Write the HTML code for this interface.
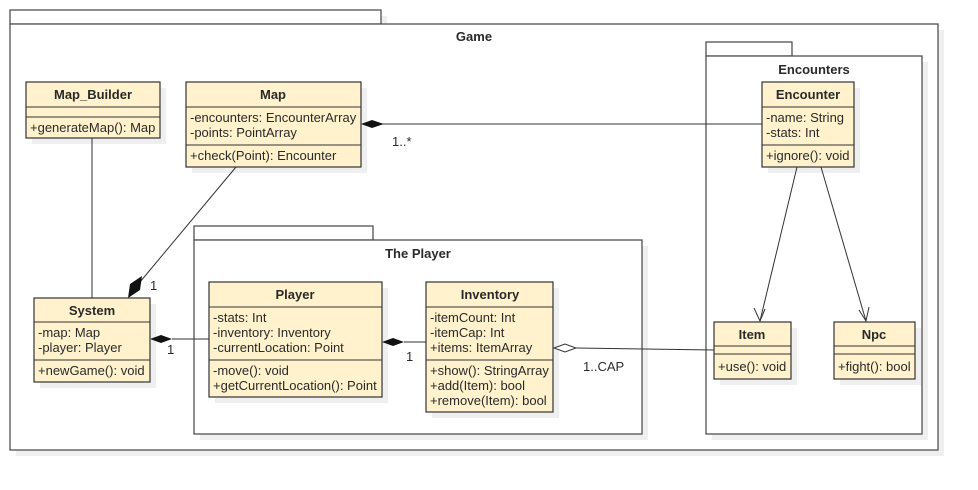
<!DOCTYPE html>
<html><head><meta charset="utf-8"><style>
html,body{margin:0;padding:0;background:#fff;}
svg{display:block;}
text{font-family:"Liberation Sans",Arial,sans-serif;font-size:13px;fill:#2a2a2a;}
.b{font-weight:bold;}
.box{fill:#fff2cc;stroke:#333;stroke-width:1.2;}
.sh{fill:#efefef;}
.ln{stroke:#333;stroke-width:1;fill:none;}
.pk{fill:#fff;stroke:#444;stroke-width:1.2;}
</style></head><body>
<svg width="978" height="490" viewBox="0 0 978 490" xmlns="http://www.w3.org/2000/svg">
<!-- Game package -->
<rect class="sh" x="16" y="16" width="371" height="14"/>
<rect class="sh" x="16" y="30" width="928" height="426"/>
<rect class="pk" x="10" y="10" width="371" height="14"/>
<rect class="pk" x="10" y="24" width="928" height="426"/>
<text class="b" x="474" y="41" text-anchor="middle">Game</text>

<!-- Encounters package -->
<rect class="sh" x="712" y="62" width="216" height="378"/>
<rect class="pk" x="706" y="42" width="86" height="14"/>
<rect class="pk" x="706" y="56" width="216" height="378"/>
<text class="b" x="814" y="74" text-anchor="middle">Encounters</text>

<!-- The Player package -->
<rect class="sh" x="200" y="246" width="448" height="194"/>
<rect class="pk" x="194" y="226" width="179" height="14"/>
<rect class="pk" x="194" y="240" width="448" height="194"/>
<text class="b" x="418" y="258" text-anchor="middle">The Player</text>

<!-- class shadows -->
<rect class="sh" x="32" y="88" width="134" height="56"/>
<rect class="sh" x="192" y="88" width="175" height="85"/>
<rect class="sh" x="40" y="304" width="116" height="84"/>
<rect class="sh" x="215" y="288" width="173" height="115"/>
<rect class="sh" x="432" y="288" width="127" height="130"/>
<rect class="sh" x="768" y="88" width="92" height="85"/>
<rect class="sh" x="720" y="328" width="77" height="57"/>
<rect class="sh" x="840" y="328" width="81" height="57"/>

<!-- connectors -->
<line class="ln" x1="92" y1="138" x2="92" y2="298"/>
<line class="ln" x1="236" y1="167" x2="140" y2="282"/>
<polygon points="128,298 130,284 142,276 140,290" fill="#111"/>
<text x="150" y="290">1</text>
<line class="ln" x1="383" y1="124" x2="762" y2="124"/>
<polygon points="361,124 372,120 384,124 372,128" fill="#111"/>
<text x="392" y="146">1..*</text>
<line class="ln" x1="172" y1="339" x2="209" y2="339"/>
<polygon points="150,339 161,335 172,339 161,343" fill="#111"/>
<text x="167" y="354">1</text>
<line class="ln" x1="404" y1="342" x2="426" y2="342"/>
<polygon points="382,342 393,338 404,342 393,346" fill="#111"/>
<text x="406" y="361">1</text>
<line class="ln" x1="576" y1="348" x2="714" y2="350"/>
<polygon points="554,348 565,344 576,348 565,352" fill="#fff" stroke="#333" stroke-width="1"/>
<text x="583" y="371">1..CAP</text>
<line class="ln" x1="797" y1="167" x2="760" y2="321"/>
<polyline class="ln" points="754,308 760,321 765,309"/>
<line class="ln" x1="821" y1="167" x2="866" y2="321"/>
<polyline class="ln" points="859,310 866,321 869,307"/>

<!-- Map_Builder -->
<rect class="box" x="26" y="82" width="134" height="56"/>
<line class="ln" x1="26" y1="107" x2="160" y2="107"/>
<line class="ln" x1="26" y1="117" x2="160" y2="117"/>
<text class="b" x="93" y="99" text-anchor="middle">Map_Builder</text>
<text x="30" y="132">+generateMap(): Map</text>

<!-- Map -->
<rect class="box" x="186" y="82" width="175" height="85"/>
<line class="ln" x1="186" y1="107" x2="361" y2="107"/>
<line class="ln" x1="186" y1="145" x2="361" y2="145"/>
<text class="b" x="273" y="99" text-anchor="middle">Map</text>
<text x="190" y="122">-encounters: EncounterArray</text>
<text x="190" y="137">-points: PointArray</text>
<text x="190" y="160">+check(Point): Encounter</text>

<!-- System -->
<rect class="box" x="34" y="298" width="116" height="84"/>
<line class="ln" x1="34" y1="322" x2="150" y2="322"/>
<line class="ln" x1="34" y1="360" x2="150" y2="360"/>
<text class="b" x="92" y="315" text-anchor="middle">System</text>
<text x="38" y="337">-map: Map</text>
<text x="38" y="352">-player: Player</text>
<text x="38" y="375">+newGame(): void</text>

<!-- Player -->
<rect class="box" x="209" y="282" width="173" height="115"/>
<line class="ln" x1="209" y1="307" x2="382" y2="307"/>
<line class="ln" x1="209" y1="360" x2="382" y2="360"/>
<text class="b" x="295" y="299" text-anchor="middle">Player</text>
<text x="213" y="322">-stats: Int</text>
<text x="213" y="337">-inventory: Inventory</text>
<text x="213" y="352">-currentLocation: Point</text>
<text x="213" y="375">-move(): void</text>
<text x="213" y="390">+getCurrentLocation(): Point</text>

<!-- Inventory -->
<rect class="box" x="426" y="282" width="127" height="130"/>
<line class="ln" x1="426" y1="307" x2="553" y2="307"/>
<line class="ln" x1="426" y1="360" x2="553" y2="360"/>
<text class="b" x="490" y="299" text-anchor="middle">Inventory</text>
<text x="430" y="322">-itemCount: Int</text>
<text x="430" y="337">-itemCap: Int</text>
<text x="430" y="352">+items: ItemArray</text>
<text x="430" y="375">+show(): StringArray</text>
<text x="430" y="390">+add(Item): bool</text>
<text x="430" y="405">+remove(Item): bool</text>

<!-- Encounter -->
<rect class="box" x="762" y="82" width="92" height="85"/>
<line class="ln" x1="762" y1="107" x2="854" y2="107"/>
<line class="ln" x1="762" y1="145" x2="854" y2="145"/>
<text class="b" x="808" y="99" text-anchor="middle">Encounter</text>
<text x="766" y="122">-name: String</text>
<text x="766" y="137">-stats: Int</text>
<text x="766" y="160">+ignore(): void</text>

<!-- Item -->
<rect class="box" x="714" y="322" width="77" height="57"/>
<line class="ln" x1="714" y1="346" x2="791" y2="346"/>
<line class="ln" x1="714" y1="354" x2="791" y2="354"/>
<text class="b" x="752" y="339" text-anchor="middle">Item</text>
<text x="718" y="371">+use(): void</text>

<!-- Npc -->
<rect class="box" x="834" y="322" width="81" height="57"/>
<line class="ln" x1="834" y1="346" x2="915" y2="346"/>
<line class="ln" x1="834" y1="354" x2="915" y2="354"/>
<text class="b" x="874" y="339" text-anchor="middle">Npc</text>
<text x="838" y="371">+fight(): bool</text>
</svg>
</body></html>
